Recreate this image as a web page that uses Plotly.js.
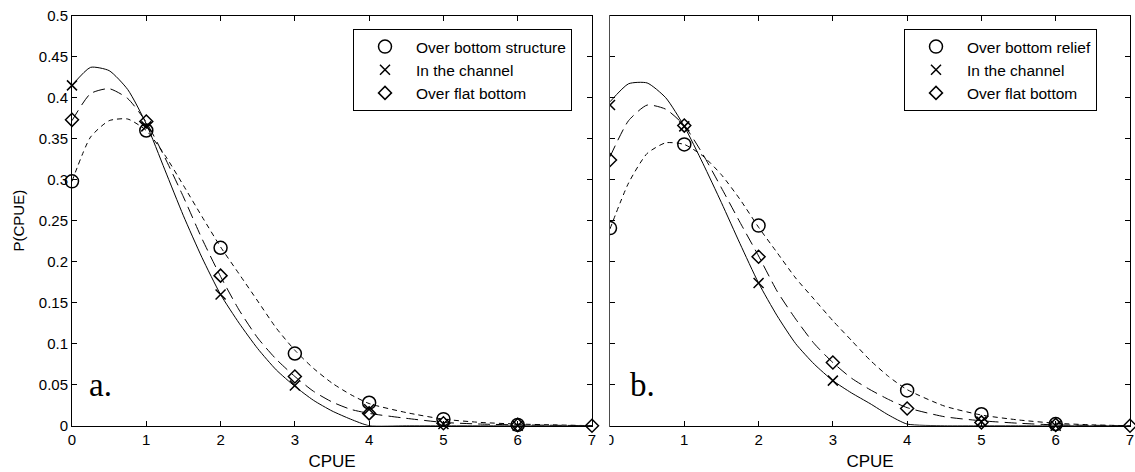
<!DOCTYPE html>
<html>
<head>
<meta charset="utf-8">
<script src="https://cdn.plot.ly/plotly-3.0.1.min.js"></script>
<style>html,body{margin:0;padding:0;background:#fff;}#chart{width:1135px;height:472px;}</style>
</head>
<body>
<div id="chart"></div>
<script>
// observed CPUE classes
const cpue = [0, 1, 2, 3, 4, 5, 6, 7];
// panel a observations
const aStructure = [0.298, 0.360, 0.217, 0.088, 0.028, 0.008, 0.001, null];
const aChannel   = [0.415, 0.365, 0.160, 0.049, 0.020, 0.002, 0.000, null];
const aFlat      = [0.373, 0.371, 0.183, 0.060, 0.015, 0.003, 0.001, 0.000];
// panel b observations
const bRelief    = [0.241, 0.343, 0.244, null, 0.043, 0.014, 0.002, null];
const bChannel   = [0.391, 0.365, 0.174, 0.055, null, 0.005, 0.000, null];
const bFlat      = [0.324, 0.366, 0.206, 0.077, 0.021, 0.004, 0.001, 0.000];
// fitted curves
const curveX = [0,0.25,0.5,0.75,1,1.25,1.5,1.75,2,2.25,2.5,2.75,3,3.25,3.5,3.75,4,4.5,5,5.5,6,6.5,7];
const aFitChannel   = [0.415,0.437,0.433,0.410,0.368,0.312,0.256,0.205,0.160,0.125,0.094,0.068,0.048,0.031,0.018,0.008,0.000,0,0,0,0,0,0];
const aFitFlat      = [0.372,0.405,0.411,0.399,0.370,0.327,0.279,0.228,0.182,0.141,0.107,0.081,0.060,0.042,0.029,0.020,0.015,0.009,0.004,0.002,0.001,0.0005,0];
const aFitStructure = [0.298,0.352,0.372,0.374,0.360,0.330,0.293,0.255,0.218,0.185,0.152,0.119,0.092,0.070,0.052,0.038,0.027,0.016,0.008,0.004,0.002,0.001,0];
const bFitChannel   = [0.395,0.417,0.418,0.400,0.365,0.320,0.272,0.222,0.174,0.134,0.100,0.075,0.055,0.040,0.027,0.013,0.002,0,0,0,0,0,0];
const bFitFlat      = [0.328,0.372,0.391,0.386,0.366,0.331,0.290,0.248,0.207,0.164,0.130,0.100,0.077,0.058,0.044,0.032,0.022,0.011,0.006,0.003,0.001,0.0005,0];
const bFitRelief    = [0.240,0.296,0.332,0.345,0.343,0.329,0.306,0.276,0.242,0.211,0.180,0.154,0.128,0.104,0.080,0.060,0.044,0.024,0.013,0.007,0.003,0.001,0];
// legend labels
const aNames = ['Over bottom structure', 'In the channel', 'Over flat bottom'];
const bNames = ['Over bottom relief', 'In the channel', 'Over flat bottom'];
// axis ticks
const yTicks = [0,0.05,0.1,0.15,0.2,0.25,0.3,0.35,0.4,0.45,0.5];
const yTickText = ['0','0.05','0.1','0.15','0.2','0.25','0.3','0.35','0.4','0.45','0.5'];
const xTicks = [0,1,2,3,4,5,6,7];

const W = 1135, H = 472;
const px = v => v / W, py = v => (H - v) / H;

function line(x, y, dash, xa, ya) {
  return {x: x, y: y, xaxis: xa, yaxis: ya, mode: 'lines', type: 'scatter',
    line: {color: '#000', width: 1, dash: dash, shape: 'spline', smoothing: 0.6},
    showlegend: false, hoverinfo: 'skip', cliponaxis: true};
}
function pts(x, y, name, sym, size, xa, ya, leg) {
  return {x: x, y: y, xaxis: xa, yaxis: ya, mode: 'markers', type: 'scatter', name: name,
    legend: leg, cliponaxis: false,
    marker: {symbol: sym, size: size, color: '#000', line: {color: '#000', width: 1.5}}};
}
const SOLID = 'solid', LONG = '12px,6px', SHORT = '5px,4px';

const data = [
  line(curveX, aFitChannel, SOLID, 'x', 'y'),
  line(curveX, aFitFlat, LONG, 'x', 'y'),
  line(curveX, aFitStructure, SHORT, 'x', 'y'),
  pts(cpue, aStructure, aNames[0], 'circle-open', 13, 'x', 'y', 'legend'),
  pts(cpue, aChannel, aNames[1], 'x-thin-open', 10, 'x', 'y', 'legend'),
  pts(cpue, aFlat, aNames[2], 'diamond-open', 10, 'x', 'y', 'legend'),
  line(curveX, bFitChannel, SOLID, 'x2', 'y2'),
  line(curveX, bFitFlat, LONG, 'x2', 'y2'),
  line(curveX, bFitRelief, SHORT, 'x2', 'y2'),
  pts(cpue, bRelief, bNames[0], 'circle-open', 13, 'x2', 'y2', 'legend2'),
  pts(cpue, bChannel, bNames[1], 'x-thin-open', 10, 'x2', 'y2', 'legend2'),
  pts(cpue, bFlat, bNames[2], 'diamond-open', 10, 'x2', 'y2', 'legend2')
];

const font = {family: '"Liberation Sans", Arial, sans-serif', color: '#000', size: 15};
const xBase = {range: [0, 7], tickvals: xTicks, ticks: 'inside', ticklen: 5, tickcolor: '#000',
  showline: true, linecolor: '#000', linewidth: 1, mirror: 'ticks', showgrid: false, zeroline: false,
  tickfont: {size: 15}, title: {text: 'CPUE', font: {size: 17}, standoff: 8}};
const yBase = {range: [0, 0.5], tickvals: yTicks, ticktext: yTickText, ticks: 'inside', ticklen: 5,
  tickcolor: '#000', showline: true, linecolor: '#000', linewidth: 1, mirror: 'ticks', showgrid: false,
  zeroline: false, tickfont: {size: 15}, domain: [py(425.7), py(15.7)]};
const legBase = {bgcolor: '#fff', bordercolor: '#000', borderwidth: 1, xanchor: 'left', yanchor: 'top',
  font: {size: 15.5}, itemwidth: 52, tracegroupgap: 0};

const layout = {
  width: W, height: H, margin: {l: 0, r: 0, t: 0, b: 0},
  paper_bgcolor: '#fff', plot_bgcolor: '#fff', font: font,
  xaxis: Object.assign({}, xBase, {domain: [px(72), px(592)], anchor: 'y'}),
  yaxis: Object.assign({}, yBase, {anchor: 'x', title: {text: 'P(CPUE)', font: {size: 15}, standoff: 10}}),
  xaxis2: Object.assign({}, xBase, {domain: [px(610), px(1130)], anchor: 'y2'}),
  yaxis2: Object.assign({}, yBase, {anchor: 'x2', showticklabels: false}),
  legend: Object.assign({}, legBase, {x: px(353), y: py(29)}),
  legend2: Object.assign({}, legBase, {x: px(904), y: py(29)}),
  annotations: [
    {text: 'a.', x: 0.39, y: 0.05, xref: 'x', yref: 'y', showarrow: false, xanchor: 'center', yanchor: 'middle',
     font: {family: '"Liberation Serif", "Times New Roman", serif', size: 33, color: '#000'}},
    {text: 'b.', x: 0.44, y: 0.05, xref: 'x2', yref: 'y2', showarrow: false, xanchor: 'center', yanchor: 'middle',
     font: {family: '"Liberation Serif", "Times New Roman", serif', size: 33, color: '#000'}}
  ],
  shapes: [
    {type: 'rect', xref: 'paper', yref: 'paper', x0: px(600), x1: px(609.3), y0: 0, y1: 1,
     fillcolor: '#fff', line: {width: 0}, layer: 'above'}
  ]
};

Plotly.newPlot('chart', data, layout, {staticPlot: true});
</script>
</body>
</html>
